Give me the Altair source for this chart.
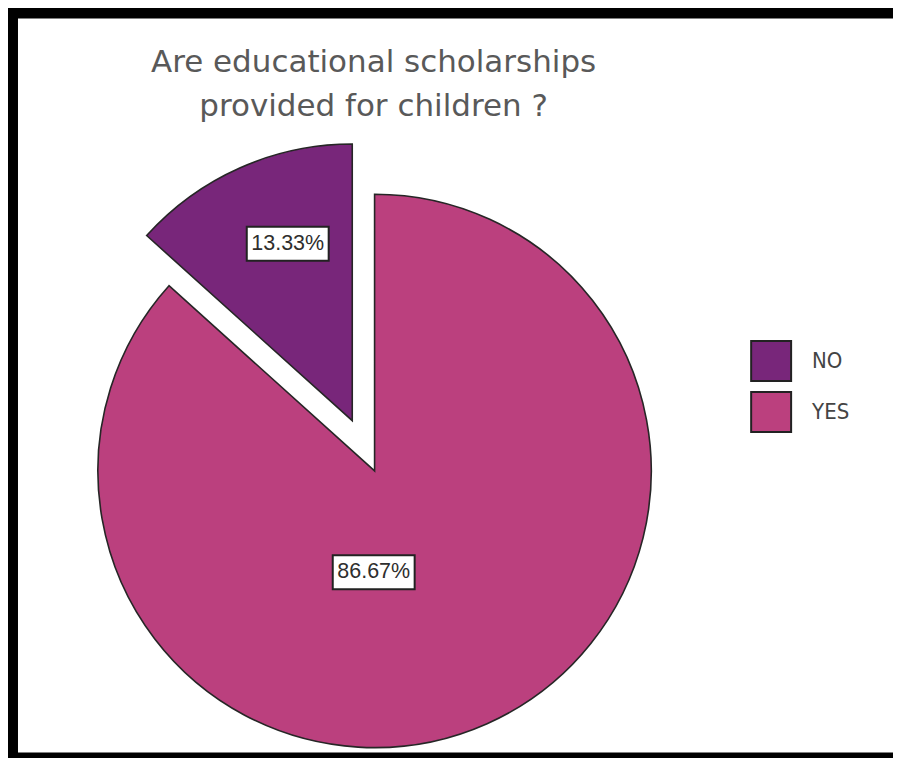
import altair as alt
import pandas as pd

categories = ["NO", "YES"]
percents = [13.33, 86.67]
colors = ["#78267A", "#BB407E"]

df = pd.DataFrame({"cat": categories, "pct": percents})

CX, CY, R = 357, 453, 277
EXPLODE = 55

base = alt.Chart(df).transform_window(
    cum="sum(pct)", sort=[alt.SortField("cat", order="descending")]
).transform_calculate(
    a0="(datum.cum - datum.pct) / 100 * 2 * PI",
    a1="datum.cum / 100 * 2 * PI",
).transform_calculate(
    mid="(datum.a0 + datum.a1) / 2",
    ex=f"datum.cat == 'NO' ? {EXPLODE} : 0",
).transform_calculate(
    cx=f"{CX} + datum.ex * sin(datum.mid)",
    cy=f"{CY} - datum.ex * cos(datum.mid)",
    lr=f"datum.cat == 'NO' ? {0.68 * R} : {0.365 * R}",
    ldx="datum.cat == 'NO' ? 12 : -42",
    ldy="datum.cat == 'NO' ? -5 : 9",
).transform_calculate(
    lx="datum.cx + datum.lr * sin(datum.mid) + datum.ldx",
    ly="datum.cy - datum.lr * cos(datum.mid) + datum.ldy",
    label="format(datum.pct / 100, '.2%')",
).transform_calculate(
    bx0="datum.lx - 41", bx1="datum.lx + 41",
    by0="datum.ly - 17", by1="datum.ly + 17",
)

arcs = base.mark_arc(radius=R, stroke="#262626", strokeWidth=1.6).encode(
    theta=alt.Theta("a0:Q", scale=None, stack=None),
    theta2="a1:Q",
    x=alt.X("cx:Q", scale=None),
    y=alt.Y("cy:Q", scale=None),
    color=alt.Color(
        "cat:N",
        scale=alt.Scale(domain=categories, range=colors),
        legend=alt.Legend(
            orient="none", legendX=733, legendY=322, title=None,
            symbolType="square", symbolSize=1600, symbolStrokeColor="#222",
            symbolStrokeWidth=2, symbolOpacity=1, labelFontSize=22,
            labelFont="Liberation Sans Narrow, DejaVu Sans Condensed, Liberation Sans",
            labelColor="#444", labelOffset=20,
            rowPadding=3, padding=0,
        ),
    ),
)

boxes = base.mark_rect(fill="white", stroke="#222", strokeWidth=2).encode(
    x=alt.X("bx0:Q", scale=None), x2="bx1:Q",
    y=alt.Y("by0:Q", scale=None), y2="by1:Q",
)

texts = base.mark_text(
    font="Liberation Sans", fontSize=21.5, color="#2e2e2e", align="center", baseline="middle"
).encode(
    x=alt.X("lx:Q", scale=None),
    y=alt.Y("ly:Q", scale=None),
    text="label:N",
)

chart = alt.layer(arcs, boxes, texts).properties(
    width=876,
    height=735,
    background="black",
    padding={"left": 10, "top": 10, "right": 0, "bottom": 5},
    autosize=alt.AutoSizeParams(type="none"),
    title=alt.TitleParams(
        text=["Are educational scholarships", "provided for children ?"],
        font="DejaVu Sans", fontSize=31, fontWeight="normal", color="#595959",
        anchor="middle", frame="group", dx=-82, dy=105, baseline="top",
        offset=0, lineHeight=44,
    ),
).configure_view(fill="white", stroke=None)

chart.save("out.html", embed_options={"renderer": "svg", "actions": False})
